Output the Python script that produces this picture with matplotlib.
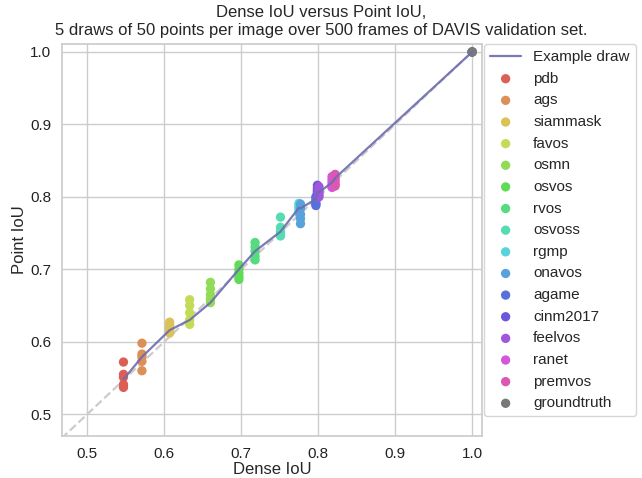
import numpy as np
import seaborn as sns
from matplotlib import pyplot as plt

sns.set_theme(style='whitegrid')
plt.rcParams['font.family'] = ['Liberation Sans', 'DejaVu Sans']

methods = ['pdb', 'ags', 'siammask', 'favos', 'osmn', 'osvos', 'rvos', 'osvoss',
           'rgmp', 'onavos', 'agame', 'cinm2017', 'feelvos', 'ranet', 'premvos',
           'groundtruth']

dense_iou = [0.547, 0.571, 0.607, 0.633, 0.660, 0.697, 0.718, 0.751,
             0.775, 0.777, 0.797, 0.799, 0.801, 0.818, 0.822, 1.0]

# 5 draws per method
point_iou = [
    [0.572, 0.555, 0.551, 0.541, 0.537],
    [0.598, 0.583, 0.579, 0.573, 0.560],
    [0.627, 0.623, 0.619, 0.616, 0.612],
    [0.658, 0.650, 0.640, 0.630, 0.624],
    [0.682, 0.673, 0.665, 0.659, 0.654],
    [0.706, 0.700, 0.695, 0.690, 0.686],
    [0.737, 0.731, 0.725, 0.718, 0.713],
    [0.772, 0.758, 0.752, 0.748, 0.746],
    [0.791, 0.788, 0.785, 0.781, 0.777],
    [0.790, 0.784, 0.776, 0.770, 0.763],
    [0.800, 0.797, 0.793, 0.790, 0.788],
    [0.816, 0.812, 0.809, 0.807, 0.805],
    [0.814, 0.810, 0.806, 0.803, 0.800],
    [0.828, 0.824, 0.820, 0.816, 0.813],
    [0.831, 0.826, 0.822, 0.818, 0.815],
    [1.0, 1.0, 1.0, 1.0, 1.0],
]

# which draw the example line uses
example_draw = [0.548, 0.579, 0.616, 0.630, 0.654, 0.700, 0.725, 0.752,
                0.785, 0.784, 0.797, 0.807, 0.806, 0.820, 0.826, 1.0]

colors = sns.color_palette('hls', len(methods))[:-1] + [(0.47, 0.47, 0.47)]

fig = plt.figure(figsize=(6.42, 4.78), dpi=100)
ax = fig.add_axes([0.097, 0.088, 0.654, 0.82])

ax.plot([0, 1], [0, 1], ls='--', color='#cccccc', lw=1.6, zorder=1)
ax.plot(dense_iou, example_draw, color='#6c6cb0', lw=1.6, alpha=0.9,
        label='Example draw', zorder=3)
for name, x, ys, c in zip(methods, dense_iou, point_iou, colors):
    ax.scatter([x] * len(ys), ys, color=c, s=45, label=name, zorder=2,
               edgecolors='none')

ax.set_xlim(0.4675, 1.013)
ax.set_ylim(0.47, 1.011)
ax.set_xticks([0.5, 0.6, 0.7, 0.8, 0.9, 1.0])
ax.set_yticks([0.5, 0.6, 0.7, 0.8, 0.9, 1.0])
ax.tick_params(labelsize=11, pad=2, labelcolor='#222222')
ax.set_xlabel('Dense IoU', fontsize=12, labelpad=1)
ax.set_ylabel('Point IoU', fontsize=12, labelpad=2)

fig.suptitle('Dense IoU versus Point IoU,\n5 draws of 50 points per image over 500 frames of DAVIS validation set.',
             fontsize=12, y=0.99, linespacing=1.25)

ax.legend(loc='upper left', bbox_to_anchor=(1.005, 1.0), fontsize=11,
          borderaxespad=0.0)

fig.savefig('out.png', dpi=100)
